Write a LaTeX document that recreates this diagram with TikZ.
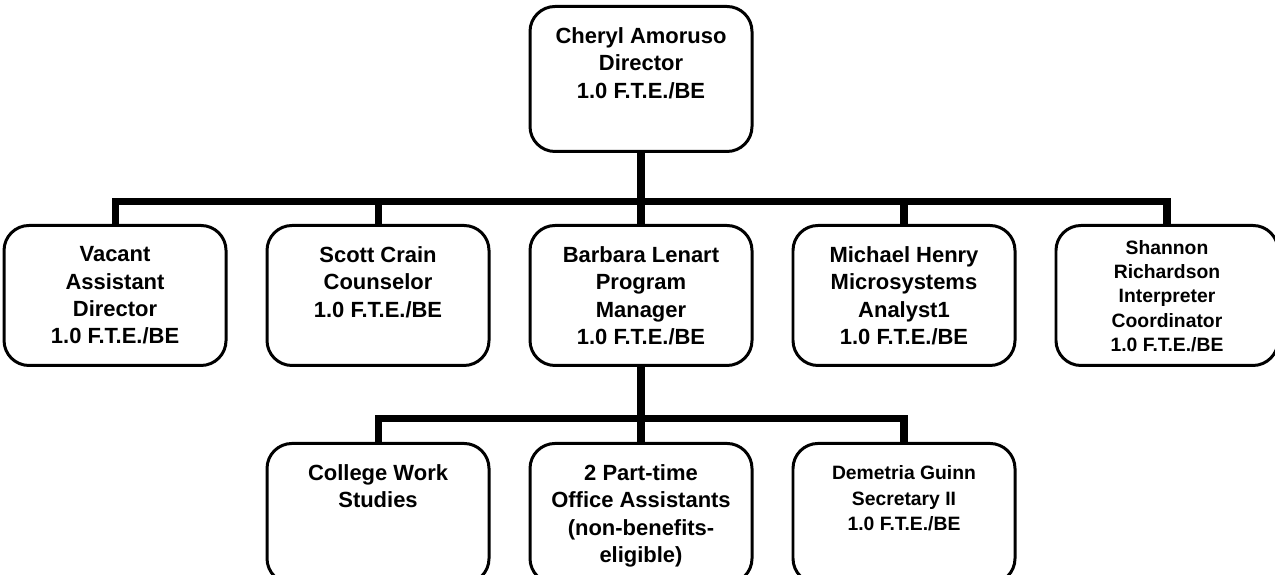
\documentclass[tikz,border=0pt]{standalone}
\usepackage{fontspec}
\setmainfont{Liberation Sans}
\usepackage{tikz}
\usetikzlibrary{calc,positioning}
\tikzstyle{every node}=[line width=1.7pt]

\begin{document}
\begin{tikzpicture}
    \tikzstyle{orgbox} = [draw, rectangle, rounded corners = 0.5cm, line width = 1.7pt, minimum width = 4.44cm, minimum height = 2.8cm, inner sep = 0pt]
    \tikzstyle{boxtext} = [anchor = north, yshift = -0.42cm, inner sep = 0pt, align = center, font = \fontsize{12.5}{15.6}\selectfont\bfseries]
    \tikzstyle{smalltext} = [boxtext, font = \fontsize{11}{13.8}\selectfont\bfseries]
    \tikzstyle{link} = [line width = 4pt, line join = miter]

    \useasboundingbox (0,0) rectangle (25.5,-11.5);

    % director
    \node[orgbox, minimum height = 2.9cm, anchor = north, label={[boxtext]north:{Cheryl Amoruso\\Director\\1.0 F.T.E./BE}}] (dir) at (12.82,-0.1) {};

    % first level
    \node[orgbox, below=1.42cm of dir, label={[boxtext]north:{Barbara Lenart\\Program\\Manager\\1.0 F.T.E./BE}}] (pm) {};
    \node[orgbox, left=0.76cm of pm, label={[boxtext]north:{Scott Crain\\Counselor\\1.0 F.T.E./BE}}] (scr) {};
    \node[orgbox, left=0.76cm of scr, label={[boxtext]north:{Vacant\\Assistant\\Director\\1.0 F.T.E./BE}}] (vac) {};
    \node[orgbox, right=0.76cm of pm, label={[boxtext]north:{Michael Henry\\Microsystems\\Analyst1\\1.0 F.T.E./BE}}] (mic) {};
    \node[orgbox, right=0.76cm of mic, label={[smalltext, yshift=0.12cm]north:{Shannon\\Richardson\\Interpreter\\Coordinator\\1.0 F.T.E./BE}}] (shr) {};

    % second level
    \node[orgbox, below=1.5cm of pm, label={[boxtext]north:{2 Part-time\\Office Assistants\\(non-benefits-\\eligible)}}] (ows) {};
    \node[orgbox, below=1.5cm of scr, label={[boxtext]north:{College Work\\Studies}}] (cws) {};
    \node[orgbox, below=1.5cm of mic, label={[smalltext, yshift=-0.02cm, font=\fontsize{11}{14.6}\selectfont\bfseries]north:{Demetria Guinn\\Secretary II\\1.0 F.T.E./BE}}] (sec) {};

    \coordinate (topbar) at ($(pm.north)+(0,0.44)$);
    \coordinate (lowbar) at ($(ows.north)+(0,0.46)$);

    \draw[link] (dir.south) -- (pm.north);
    \draw[link] (vac.north) |- (topbar) -| (shr.north);
    \foreach \n in {scr,mic}
      \draw[link] (\n.north) -- (\n.north |- topbar);

    \draw[link] (pm.south) -- (ows.north);
    \draw[link] (cws.north) |- (lowbar) -| (sec.north);
\end{tikzpicture}
\end{document}
